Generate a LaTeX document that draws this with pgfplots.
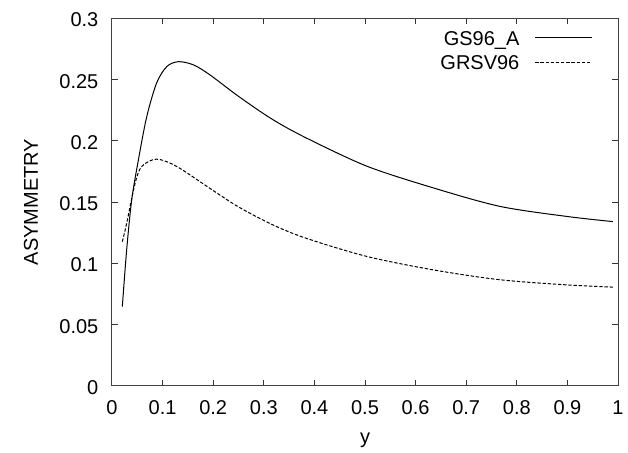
\documentclass[border=0pt]{standalone}
\usepackage{fontspec}
\setmainfont{Liberation Sans}
\usepackage{pgfplots}
\pgfplotsset{compat=1.18}
\begin{document}
\begin{tikzpicture}[font=\fontsize{12}{14}\selectfont]
\begin{axis}[
  scale only axis, width=303.6pt, height=220.4pt,
  xmin=0, xmax=1, ymin=0, ymax=0.3,
  xtick={0,0.1,0.2,0.3,0.4,0.5,0.6,0.7,0.8,0.9,1},
  xticklabels={0,0.1,0.2,0.3,0.4,0.5,0.6,0.7,0.8,0.9,1},
  ytick={0,0.05,0.1,0.15,0.2,0.25,0.3},
  yticklabels={0,0.05,0.1,0.15,0.2,0.25,0.3},
  tick align=inside, major tick length=3.6pt,
  axis line style={black!75, line width=0.6pt},
  tick style={black!80, line width=0.6pt},
  xticklabel style={anchor=base, yshift=-17.2pt, inner sep=0pt},
  yticklabel style={anchor=east, inner sep=0pt, xshift=-8pt, yshift=-1pt},
  xlabel={y}, ylabel={ASYMMETRY},
  xlabel style={at={(axis description cs:0.5,-0.1579)}, anchor=base},
  ylabel style={at={(axis description cs:-0.160,0.5)}, anchor=center},
  legend style={draw=none, fill=none, at={(axis description cs:0.950,0.968)},
    anchor=north east, inner sep=0pt, row sep=6pt, column sep=9.2pt,
    nodes={inner sep=0pt, text height=8.75pt, text depth=0pt}},
  legend cell align=right,
  legend plot pos=right,
  legend image code/.code={\draw[#1] (0pt,0pt)--(34pt,0pt);},
]
\addplot[black, line width=0.6pt, smooth] coordinates {
(0.0204,0.0645) (0.029,0.111) (0.039,0.152) (0.052,0.184) (0.0686,0.2196)
(0.088,0.247) (0.108,0.2605) (0.131,0.2646) (0.161,0.262) (0.194,0.2537)
(0.251,0.236) (0.317,0.2175) (0.383,0.2025) (0.504,0.1792) (0.636,0.1614)
(0.767,0.1464) (0.899,0.1382) (0.99,0.134)
};
\addlegendentry{GS96\_A}
\addplot[black, line width=0.6pt, dash pattern=on 2pt off 1.1pt, smooth] coordinates {
(0.0204,0.1176) (0.029,0.1326) (0.0455,0.165) (0.0587,0.179) (0.088,0.185)
(0.128,0.179) (0.194,0.161) (0.25,0.146) (0.317,0.1315) (0.383,0.1205)
(0.504,0.1055) (0.636,0.0945) (0.767,0.0865) (0.899,0.0823) (0.99,0.0805)
};
\addlegendentry{GRSV96}
\end{axis}
\pgfresetboundingbox
\path[use as bounding box] ([xshift=-67.2pt,yshift=-39.8pt]current axis.south west) rectangle ([xshift=6pt,yshift=11pt]current axis.north east);
\end{tikzpicture}
\end{document}
